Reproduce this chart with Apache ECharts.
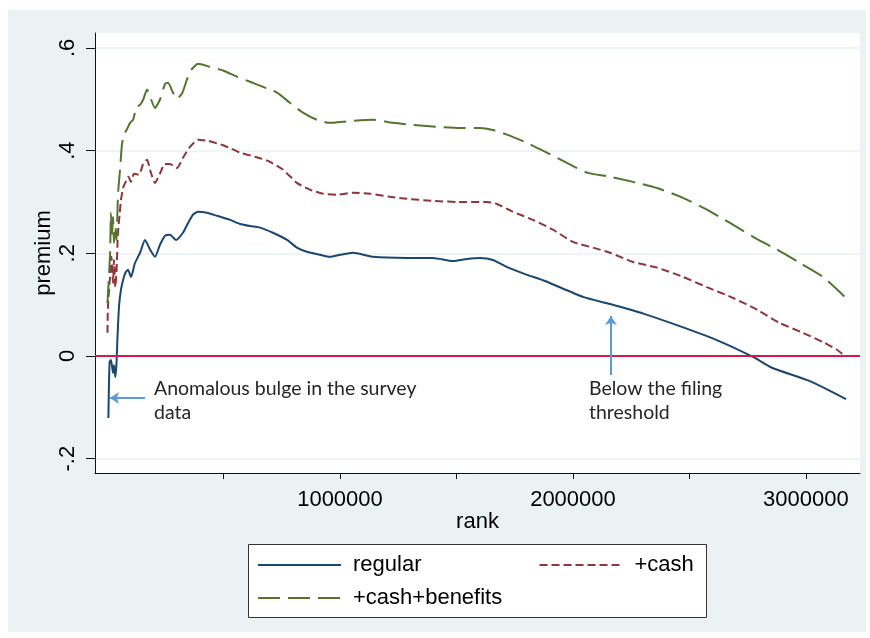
<!DOCTYPE html>
<html>
<head>
<meta charset="utf-8">
<script src="https://cdn.jsdelivr.net/npm/echarts@6/dist/echarts.min.js"></script>
<style>
  html, body { margin: 0; background: #fff; }
  #chart { position: absolute; left: 8px; top: 10px; width: 858px; height: 622px; }
</style>
</head>
<body>
<div id="chart"></div>
<script>
// values
const regularRank = [6000, 11000, 17000, 26000, 30000, 36000, 41000, 45000, 52000, 60000, 69000, 79000, 90000, 103000, 120000, 142000, 163000, 185000, 206000, 227000, 249000, 270000, 296000, 326000, 348000, 369000, 391000, 429000, 472000, 528000, 571000, 614000, 657000, 712000, 773000, 815000, 858000, 914000, 957000, 1000000, 1056000, 1142000, 1288000, 1399000, 1485000, 1545000, 1601000, 1657000, 1717000, 1803000, 1880000, 2043000, 2159000, 2305000, 2464000, 2627000, 2773000, 2854000, 3017000, 3172000];
const regularPremium = [-0.121, -0.012, -0.008, -0.033, -0.018, -0.041, -0.012, 0.037, 0.099, 0.129, 0.148, 0.162, 0.168, 0.154, 0.181, 0.201, 0.226, 0.207, 0.193, 0.216, 0.234, 0.236, 0.226, 0.240, 0.259, 0.275, 0.281, 0.279, 0.273, 0.265, 0.257, 0.253, 0.250, 0.240, 0.226, 0.211, 0.203, 0.197, 0.193, 0.197, 0.201, 0.193, 0.191, 0.191, 0.185, 0.189, 0.191, 0.187, 0.173, 0.158, 0.146, 0.115, 0.101, 0.082, 0.057, 0.029, -0.002, -0.023, -0.049, -0.084];

const cashRank = [2000, 4000, 13000, 19000, 26000, 30000, 36000, 41000, 47000, 54000, 60000, 69000, 82000, 92000, 103000, 116000, 137000, 155000, 172000, 187000, 206000, 227000, 249000, 270000, 300000, 326000, 356000, 391000, 433000, 506000, 571000, 635000, 691000, 755000, 815000, 871000, 927000, 987000, 1056000, 1129000, 1215000, 1288000, 1399000, 1502000, 1631000, 1674000, 1742000, 1828000, 1914000, 2000000, 2086000, 2159000, 2258000, 2361000, 2472000, 2575000, 2687000, 2790000, 2888000, 2987000, 3073000, 3133000, 3167000];
const cashPremium = [0.045, 0.096, 0.154, 0.193, 0.142, 0.187, 0.134, 0.168, 0.240, 0.275, 0.304, 0.327, 0.341, 0.349, 0.339, 0.355, 0.353, 0.374, 0.382, 0.359, 0.337, 0.355, 0.374, 0.374, 0.366, 0.386, 0.407, 0.421, 0.419, 0.409, 0.396, 0.388, 0.380, 0.363, 0.337, 0.324, 0.316, 0.314, 0.318, 0.316, 0.310, 0.306, 0.302, 0.300, 0.300, 0.296, 0.281, 0.265, 0.246, 0.222, 0.211, 0.201, 0.183, 0.172, 0.154, 0.134, 0.113, 0.090, 0.064, 0.045, 0.027, 0.012, 0.000];

const benefitsRank = [2000, 13000, 17000, 21000, 26000, 30000, 36000, 41000, 47000, 56000, 64000, 73000, 86000, 99000, 112000, 127000, 142000, 155000, 172000, 185000, 206000, 227000, 249000, 262000, 283000, 300000, 322000, 343000, 365000, 391000, 442000, 498000, 558000, 614000, 670000, 730000, 785000, 841000, 901000, 957000, 1013000, 1056000, 1142000, 1227000, 1313000, 1429000, 1515000, 1601000, 1657000, 1717000, 1803000, 1888000, 1974000, 2060000, 2159000, 2258000, 2361000, 2472000, 2575000, 2674000, 2773000, 2876000, 2974000, 3073000, 3167000];
const benefitsPremium = [0.103, 0.197, 0.279, 0.232, 0.271, 0.220, 0.253, 0.226, 0.314, 0.363, 0.411, 0.431, 0.442, 0.454, 0.460, 0.485, 0.489, 0.499, 0.519, 0.505, 0.483, 0.499, 0.530, 0.532, 0.513, 0.501, 0.511, 0.538, 0.559, 0.569, 0.563, 0.556, 0.544, 0.534, 0.524, 0.513, 0.493, 0.474, 0.460, 0.454, 0.456, 0.458, 0.460, 0.454, 0.450, 0.446, 0.444, 0.444, 0.440, 0.431, 0.415, 0.396, 0.376, 0.357, 0.349, 0.339, 0.327, 0.308, 0.285, 0.259, 0.232, 0.207, 0.181, 0.154, 0.115];

const yTickValues = [-0.2, 0, 0.2, 0.4, 0.6];
const xLabelValues = [1000000, 2000000, 3000000];
const xTickValues = [500000, 1000000, 1500000, 2000000, 2500000, 3000000];

const bulgeArrow = { from: [163000, -0.082], to: [13000, -0.082] };
const filingArrow = { from: [2163000, -0.037], to: [2163000, 0.078] };

const zip = (xs, ys) => xs.map((x, i) => [x, ys[i]]);
const font = "'Liberation Sans', Arial, sans-serif";
const arrowColor = '#5b9bd5';

const chart = echarts.init(document.getElementById('chart'));

const legendBase = {
  padding: 0, itemWidth: 83, itemHeight: 14,
  itemStyle: { opacity: 0 },
  textStyle: { fontFamily: font, fontSize: 22, color: '#000', padding: [0, 0, 0, 7] }
};

chart.setOption({
  backgroundColor: '#eaf2f3',
  animation: false,
  grid: { left: 87, right: 6, top: 23, bottom: 159, show: true, backgroundColor: '#fff', borderWidth: 0 },
  xAxis: {
    type: 'value', min: -51500, max: 3232000,
    name: 'rank', nameLocation: 'middle', nameGap: 38, nameMoveOverlap: false,
    nameTextStyle: { fontFamily: font, fontSize: 22, color: '#000' },
    axisLine: { onZero: false, lineStyle: { color: '#111', width: 1 } },
    axisTick: { customValues: xTickValues, length: 6, lineStyle: { color: '#111' } },
    axisLabel: {
      customValues: xLabelValues, margin: 16, fontFamily: font, fontSize: 22, color: '#000',
      formatter: (v) => String(v)
    },
    splitLine: { show: false }
  },
  yAxis: {
    type: 'value', min: -0.228, max: 0.629,
    name: 'premium', nameLocation: 'middle', nameGap: 40, nameMoveOverlap: false,
    nameTextStyle: { fontFamily: font, fontSize: 22, color: '#000' },
    axisLine: { onZero: false, lineStyle: { color: '#111', width: 1 } },
    axisTick: { customValues: yTickValues, length: 9, lineStyle: { color: '#111' } },
    axisLabel: {
      customValues: yTickValues, rotate: 90, margin: 16, fontFamily: font, fontSize: 22, color: '#000',
      formatter: (v) => (v === 0 ? '0' : String(+v.toFixed(1)).replace('0.', '.'))
    },
    splitLine: { show: true, lineStyle: { color: '#eaf2f3', width: 1.5 } }
  },
  legend: [
    Object.assign({ data: ['regular', '+cash'], left: 249, top: 544, itemGap: 117 }, legendBase),
    Object.assign({ data: ['+cash+benefits'], left: 249, top: 577 }, legendBase)
  ],
  graphic: [
    {
      type: 'rect', left: 240, top: 534, z: -1, silent: true,
      shape: { width: 458, height: 73 },
      style: { fill: '#fff', stroke: '#333', lineWidth: 1 }
    },
    {
      type: 'text', left: 146, top: 367, silent: true,
      style: { text: 'Anomalous bulge in the survey\ndata', fontFamily: 'Lato, sans-serif', fontSize: 19.5, lineHeight: 24, fill: '#262626' }
    },
    {
      type: 'text', left: 581, top: 367, silent: true,
      style: { text: 'Below the filing\nthreshold', fontFamily: 'Lato, sans-serif', fontSize: 19.5, lineHeight: 24, fill: '#262626' }
    }
  ],
  series: [
    {
      name: 'regular', type: 'line', data: zip(regularRank, regularPremium),
      showSymbol: false, symbol: 'none', smooth: 0.2,
      lineStyle: { color: '#1a476f', width: 2 }, itemStyle: { color: '#1a476f' },
      markLine: {
        silent: true, animation: false,
        label: { show: false },
        data: [
          [
            { yAxis: 0, x: 87, symbol: 'none', lineStyle: { color: '#d6184a', width: 2, type: 'solid' } },
            { yAxis: 0, x: 852, symbol: 'none' }
          ],
          [
            { coord: bulgeArrow.from, symbol: 'none', lineStyle: { color: arrowColor, width: 2, type: 'solid' } },
            { coord: bulgeArrow.to, symbol: 'arrow', symbolSize: [9, 9] }
          ],
          [
            { coord: filingArrow.from, symbol: 'none', lineStyle: { color: arrowColor, width: 2, type: 'solid' } },
            { coord: filingArrow.to, symbol: 'arrow', symbolSize: [9, 9] }
          ]
        ]
      }
    },
    {
      name: '+cash', type: 'line', data: zip(cashRank, cashPremium),
      showSymbol: false, symbol: 'none', smooth: 0.2,
      lineStyle: { color: '#90353b', width: 2, type: [8, 4] }, itemStyle: { color: '#90353b' }
    },
    {
      name: '+cash+benefits', type: 'line', data: zip(benefitsRank, benefitsPremium),
      showSymbol: false, symbol: 'none', smooth: 0.2,
      lineStyle: { color: '#55752f', width: 2, type: [22, 8] }, itemStyle: { color: '#55752f' }
    }
  ]
});
</script>
</body>
</html>
